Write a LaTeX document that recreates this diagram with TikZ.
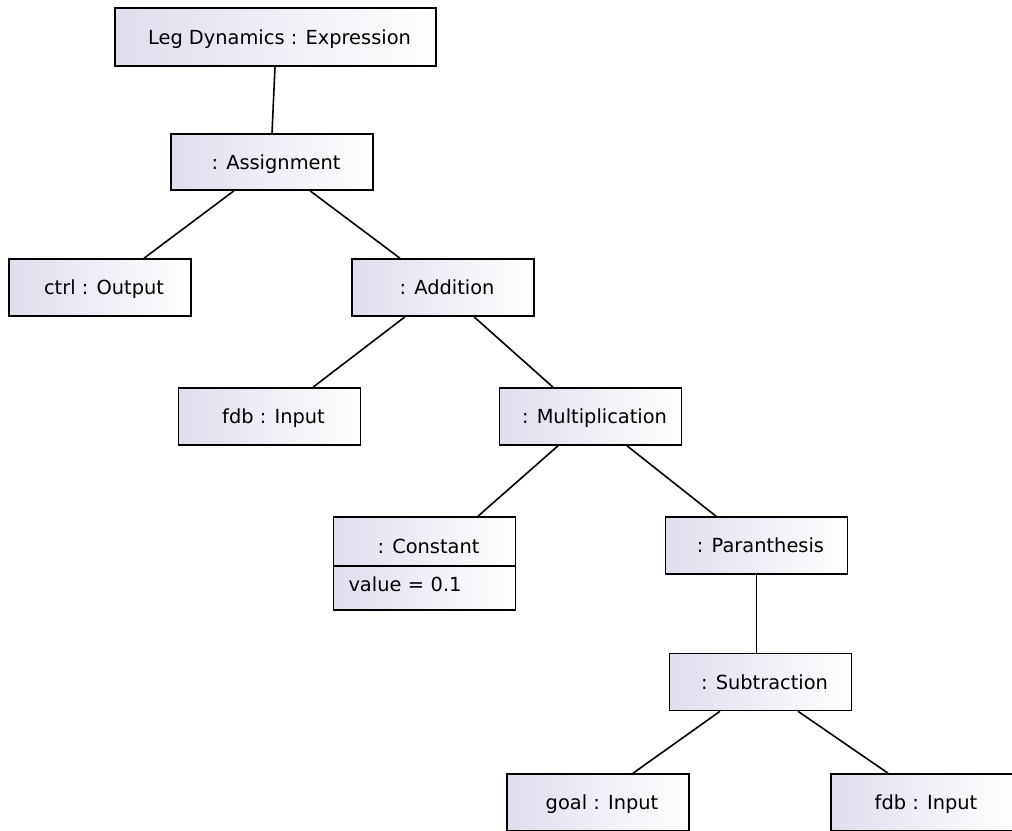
\documentclass[tikz,border=0pt]{standalone}
\usepackage{fontspec}
\setmainfont{DejaVu Sans}
\definecolor{boxlav}{RGB}{222,222,238}
\begin{document}
\begin{tikzpicture}
		[x=1pt,y=-1pt,
		slot/.style={rectangle,draw,line width=1.6pt,left color=boxlav,right color=white,minimum width=182pt,minimum height=57pt,inner sep=0pt,font=\fontsize{19.4pt}{23pt}\selectfont,text height=16pt,text depth=2pt},
		obj/.style={slot,execute at begin node={\hspace*{8pt}}},
		link/.style={line width=1.6pt}]
		\useasboundingbox (0,0) rectangle (1012,830);
		\clip (0,0) rectangle (1012,830);
		\node[obj,name=expr,minimum width=321pt,minimum height=58pt]at(275.5,37){Leg Dynamics : Expression};
		\node[obj,name=asg,minimum width=202pt,minimum height=56pt]at(272,162){: Assignment};
		\node[obj,name=out]at(100,287.5){ctrl : Output};
		\node[obj,name=add]at(443,287.5){: Addition};
		\node[obj,name=fdb1]at(269.5,416.5){fdb : Input};
		\node[obj,name=mul]at(590.5,416.5){: Multiplication};
		\node[obj,name=const,minimum height=49pt,text height=24pt,text depth=1pt]at(424.5,541.5){: Constant};
		\node[slot,name=val,minimum height=44pt,text height=12pt,text depth=5pt,text width=152pt,align=left]at(424.5,588){value = 0.1};
		\node[obj,name=par]at(756.5,545.5){: Paranthesis};
		\node[obj,name=sub]at(760.5,682){: Subtraction};
		\node[obj,name=goal]at(598,802.5){goal : Input};
		\node[obj,name=fdb2]at(922,802.5){fdb : Input};
		\draw[link] ([xshift=-0.5pt]expr.south)--(asg.north);
		\draw[link] ([xshift=-38pt]asg.south)--([xshift=44pt]out.north);
		\draw[link] ([xshift=38pt]asg.south)--([xshift=-43pt]add.north);
		\draw[link] ([xshift=-38pt]add.south)--([xshift=43.5pt]fdb1.north);
		\draw[link] ([xshift=31pt]add.south)--([xshift=-37.5pt]mul.north);
		\draw[link] ([xshift=-32.5pt]mul.south)--([xshift=53.5pt]const.north);
		\draw[link] ([xshift=36.5pt]mul.south)--([xshift=-40.5pt]par.north);
		\draw[link] (par.south)--(par.south|-sub.north);
		\draw[link] ([xshift=-40.5pt]sub.south)--([xshift=35pt]goal.north);
		\draw[link] ([xshift=37.5pt]sub.south)--([xshift=-34pt]fdb2.north);
	\end{tikzpicture}
\end{document}
